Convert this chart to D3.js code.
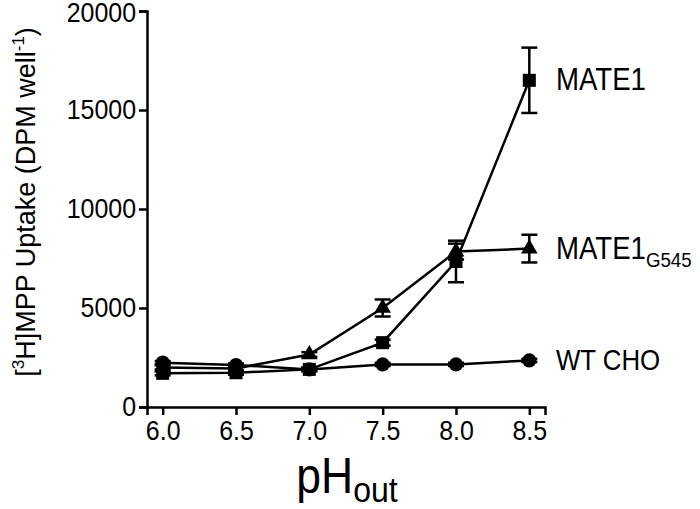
<!DOCTYPE html>
<html>
<head>
<meta charset="utf-8">
<script src="https://cdn.jsdelivr.net/npm/d3@7"></script>
<style>
  body { margin: 0; background: #fff; }
  text { font-family: "Liberation Sans", Arial, sans-serif; fill: #000; }
</style>
</head>
<body>
<script>
// data
const ph = [6.0, 6.5, 7.0, 7.5, 8.0, 8.5];
const wtCho = [2240, 2120, 1900, 2150, 2150, 2350];
const wtChoErr = [80, 80, 80, 80, 80, 80];
const mate1 = [1700, 1730, 1900, 3250, 7350, 16500];
const mate1Err = [100, 100, 100, 150, 1050, 1650];
const mateG545 = [2000, 1950, 2650, 5000, 7850, 8000];
const mateG545Err = [100, 100, 120, 430, 400, 700];
const yTicks = [0, 5000, 10000, 15000, 20000];

const width = 700, height = 509;
const margin = {top: 11, right: 155, bottom: 102, left: 147};
const squeeze = 0.89; // the reference type is a little narrow

const series = [
  {name: "WT CHO", values: wtCho, err: wtChoErr, shape: "circle"},
  {name: "MATE1G545", values: mateG545, err: mateG545Err, shape: "triangle"},
  {name: "MATE1", values: mate1, err: mate1Err, shape: "square"}
];

const x = d3.scaleLinear()
    .domain([5.893, 8.607])
    .range([margin.left, width - margin.right]);
const y = d3.scaleLinear()
    .domain([0, 20000])
    .range([height - margin.bottom, margin.top]);

const svg = d3.select("body").append("svg")
    .attr("width", width)
    .attr("height", height);

// axes
svg.append("g")
    .attr("transform", `translate(0,${y(0)})`)
    .call(d3.axisBottom(x).tickValues(ph).tickFormat(d3.format(".1f")).tickSizeOuter(0).tickSize(8).tickPadding(5))
    .call(g => g.select(".domain").attr("stroke-width", 2.5))
    .call(g => g.selectAll(".tick line").attr("stroke-width", 2.5))
    .call(g => g.selectAll(".tick text")
        .attr("font-size", 28).attr("font-family", null)
        .attr("transform", `scale(${squeeze},1)`));

svg.append("g")
    .attr("transform", `translate(${margin.left},0)`)
    .call(d3.axisLeft(y).tickValues(yTicks).tickFormat(d3.format("d")).tickSizeOuter(0).tickSize(8).tickPadding(3))
    .call(g => g.select(".domain").attr("stroke-width", 2.5))
    .call(g => g.selectAll(".tick line").attr("stroke-width", 2.5))
    .call(g => g.selectAll(".tick text")
        .attr("font-size", 28).attr("font-family", null)
        .attr("x", -11 / squeeze)
        .attr("y", d => d === 20000 ? 2 : 0)
        .attr("transform", `scale(${squeeze},1)`));

const line = d3.line()
    .x((d, i) => x(ph[i]))
    .y(d => y(d));

const symbolType = {
  circle: d3.symbolCircle,
  square: d3.symbolSquare,
  triangle: d3.symbolTriangle
};
const symbolSize = {circle: 160, square: 170, triangle: 120};

series.forEach(s => {
  const g = svg.append("g");
  g.append("path")
      .attr("d", line(s.values))
      .attr("fill", "none")
      .attr("stroke", "#000")
      .attr("stroke-width", 2.5);

  const pts = s.values.map((v, i) => ({x: ph[i], v, e: s.err[i]}));
  const eb = g.selectAll(".eb").data(pts).join("g").attr("class", "eb");
  eb.append("line")
      .attr("x1", d => x(d.x)).attr("x2", d => x(d.x))
      .attr("y1", d => y(d.v - d.e)).attr("y2", d => y(d.v + d.e))
      .attr("stroke", "#000").attr("stroke-width", 2.5);
  [1, -1].forEach(sg => {
    eb.append("line")
        .attr("x1", d => x(d.x) - 8).attr("x2", d => x(d.x) + 8)
        .attr("y1", d => y(d.v + sg * d.e)).attr("y2", d => y(d.v + sg * d.e))
        .attr("stroke", "#000").attr("stroke-width", 2.5);
  });

  g.selectAll(".pt").data(pts).join("path")
      .attr("class", "pt")
      .attr("transform", d => `translate(${x(d.x)},${y(d.v)})`)
      .attr("d", d3.symbol(symbolType[s.shape], symbolSize[s.shape]))
      .attr("fill", "#000");
});

// series labels
const labelX = 556;
const label = (yy, size) => svg.append("text")
    .attr("transform", `translate(${labelX},${yy}) scale(${squeeze},1)`)
    .attr("font-size", size);
label(y(16500) + 10, 31).text("MATE1");
const g545 = label(y(8000) + 10, 31);
g545.append("tspan").text("MATE1");
g545.append("tspan").attr("font-size", 21).attr("dy", 8).text("G545");
label(y(2350) + 10, 29).text("WT CHO");

// x axis title
const xt = svg.append("text")
    .attr("transform", `translate(347,493) scale(${squeeze},1)`)
    .attr("text-anchor", "middle")
    .attr("font-size", 50);
xt.append("tspan").text("pH");
xt.append("tspan").attr("font-size", 36).attr("dy", 9).text("out");

// y axis title
const yt = svg.append("text")
    .attr("transform", "translate(35,202) rotate(-90)")
    .attr("text-anchor", "middle")
    .attr("font-size", 27);
yt.append("tspan").text("[");
yt.append("tspan").attr("font-size", 17).attr("dy", -11).text("3");
yt.append("tspan").attr("dy", 11).text("H]MPP Uptake (DPM well");
yt.append("tspan").attr("font-size", 17).attr("dy", -11).text("-1");
yt.append("tspan").attr("dy", 11).text(")");
</script>
</body>
</html>
